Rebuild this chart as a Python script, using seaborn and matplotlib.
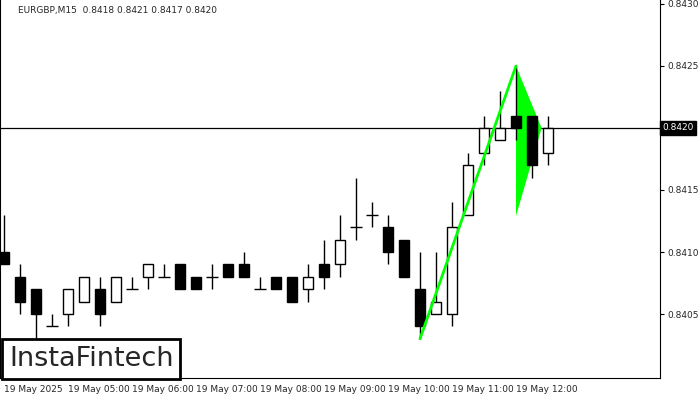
import matplotlib
matplotlib.use("Agg")
import matplotlib.pyplot as plt
import seaborn as sns
import numpy as np

sns.set_style("white")
plt.rcParams['font.family'] = ['DejaVu Sans']

opens  = [.8410,.8408,.8407,.8404,.8405,.8406,.8407,.8406,.8407,.8408,.8408,.8409,.8408,.8408,.8409,.8409,.8407,.8408,.8408,.8407,.8409,.8409,.8412,.8413,.8412,.8411,.8407,.8405,.8405,.8413,.8418,.8419,.8421,.8421,.8418]
highs  = [.8413,.8409,.8407,.8405,.8407,.8408,.8408,.8408,.8408,.8409,.8409,.8409,.8408,.8409,.8409,.8410,.8408,.8408,.8408,.8409,.8411,.8413,.8416,.8414,.8413,.8411,.8410,.8410,.8414,.8418,.8421,.8423,.8425,.8421,.8421]
lows   = [.8409,.8405,.8403,.8404,.8404,.8406,.8404,.8406,.8407,.8407,.8408,.8407,.8407,.8407,.8408,.8408,.8407,.8407,.8406,.8406,.8407,.8408,.8411,.8412,.8409,.8408,.8403,.8405,.8404,.8413,.8417,.8419,.8419,.8416,.8417]
closes = [.8409,.8406,.8405,.8404,.8407,.8408,.8405,.8408,.8407,.8409,.8408,.8407,.8407,.8408,.8408,.8408,.8407,.8407,.8406,.8408,.8408,.8411,.8412,.8413,.8410,.8408,.8404,.8406,.8412,.8417,.8420,.8420,.8420,.8417,.8420]
time_labels = ["19 May 2025","19 May 05:00","19 May 06:00","19 May 07:00","19 May 08:00",
               "19 May 09:00","19 May 10:00","19 May 11:00","19 May 12:00"]
price_ticks = [0.8405,0.8410,0.8415,0.8420,0.8425,0.8430]
current_price = 0.8420
pole_start = (26, 0.8403)
pole_top = (32, 0.8425)
pennant = [(32, 0.8425), (33.6, 0.8420), (32, 0.84129)]

fig = plt.figure(figsize=(7, 4), dpi=100)
ax = fig.add_axes([0, 22/400, 660/700, 378/400])
n = len(opens)
x = np.arange(n)
w = 0.62
ymin, ymax = 0.839984, 0.843032

ax.vlines(x, lows, highs, color='black', lw=1, zorder=2)
for i in range(n):
    o, c = opens[i], closes[i]
    if abs(o - c) < 1e-7:
        ax.hlines(o, i - 0.38, i + 0.38, color='black', lw=1, zorder=3)
    else:
        ax.bar(i, abs(c - o), bottom=min(o, c), width=w,
               color='black' if c < o else 'white', edgecolor='black', lw=1, zorder=3)

ax.axhline(current_price, color='black', lw=0.9, zorder=1)
ax.fill([p[0] for p in pennant], [p[1] for p in pennant], color='#00ff00', zorder=1.5, lw=0)
ax.plot([pole_start[0], pole_top[0]], [pole_start[1], pole_top[1]], color='#00ff00', lw=2, zorder=4)

ax.set_xlim(-0.25, 41)
ax.set_ylim(ymin, ymax)
ax.yaxis.tick_right()
ax.set_yticks(price_ticks)
ax.set_yticklabels([f"{t:.4f}" for t in price_ticks], fontsize=6.5)
ax.set_xticks(np.arange(0, 4 * len(time_labels), 4))
ax.set_xticklabels(time_labels, fontsize=6.5, ha='left')
ax.tick_params(axis='both', length=3, color='black', pad=2)
for s in ax.spines.values():
    s.set_visible(False)
for side in ('right', 'bottom', 'left'):
    ax.spines[side].set_visible(True)
    ax.spines[side].set_color('black')

ax.text(1.003, (current_price - ymin) / (ymax - ymin), f"{current_price:.4f}", transform=ax.transAxes,
        fontsize=6.5, color='white', va='center', ha='left',
        bbox=dict(boxstyle='square,pad=0.25', fc='black', ec='black'))
for lbl in ax.get_yticklabels():
    if lbl.get_text() == "0.8420":
        lbl.set_visible(False)

ax.text(0.027, 0.985, "EURGBP,M15  0.8418 0.8421 0.8417 0.8420", transform=ax.transAxes,
        fontsize=6.5, va='top', ha='left')
fig.text(9/700, 1 - 359/400, "InstaFintech", fontsize=19.5, va='center', ha='left',
         bbox=dict(boxstyle='square,pad=0.25', fc='white', ec='black', lw=2))

fig.savefig("out.png", dpi=100)
